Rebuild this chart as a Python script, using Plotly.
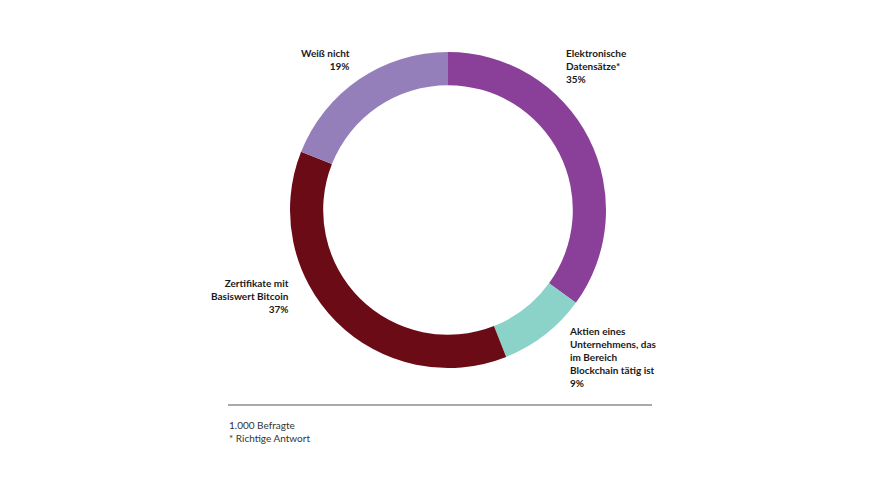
import plotly.graph_objects as go

# Survey answers (1.000 respondents), clockwise from 12 o'clock
labels = [
    "Elektronische<br>Datensätze*",
    "Aktien eines<br>Unternehmens, das<br>im Bereich<br>Blockchain tätig ist",
    "Zertifikate mit<br>Basiswert Bitcoin",
    "Weiß nicht",
]
shares = [35, 9, 37, 19]
colors = ["#8A3F99", "#8BD3C8", "#6A0B16", "#947FBB"]

W, H = 880, 495
FONT = "Lato"
OFF = 8  # page body margin shifts the figure

def px_x(x):
    return (x - OFF) / W

def px_y(y):
    return 1 - (y - OFF) / H

# donut placement in pixels
cx, cy, R = 448, 210, 158

fig = go.Figure(
    go.Pie(
        labels=labels,
        values=shares,
        marker=dict(colors=colors, line=dict(width=0)),
        hole=0.79,
        sort=False,
        direction="clockwise",
        rotation=0,
        textinfo="none",
        hoverinfo="label+percent",
        showlegend=False,
        domain=dict(
            x=[px_x(cx - R), px_x(cx + R)],
            y=[px_y(cy + R), px_y(cy - R)],
        ),
    )
)

# label positions (pixel x, pixel top y, anchor)
label_pos = [
    (564, 45, "left"),
    (567, 323, "left"),
    (291, 275, "right"),
    (352, 45, "right"),
]

for lab, val, (lx, ly, side) in zip(labels, shares, label_pos):
    fig.add_annotation(
        x=px_x(lx),
        y=px_y(ly),
        xref="paper",
        yref="paper",
        text=f"<b>{lab}<br>{val}%</b>",
        showarrow=False,
        xanchor=side,
        yanchor="top",
        align=side,
        font=dict(family=FONT, size=10, color="#1a1a1a"),
    )

# rule and footnote
fig.add_shape(
    type="line",
    xref="paper",
    yref="paper",
    x0=px_x(228),
    x1=px_x(652),
    y0=px_y(405),
    y1=px_y(405),
    line=dict(color="#555555", width=1.2),
)
fig.add_annotation(
    x=px_x(227),
    y=px_y(417),
    xref="paper",
    yref="paper",
    text="1.000 Befragte<br>* Richtige Antwort",
    showarrow=False,
    xanchor="left",
    yanchor="top",
    align="left",
    font=dict(family=FONT, size=10, color="#333333"),
)

fig.update_layout(
    width=W,
    height=H,
    margin=dict(l=0, r=0, t=0, b=0),
    paper_bgcolor="white",
    plot_bgcolor="white",
)

fig.write_html("out.html")
